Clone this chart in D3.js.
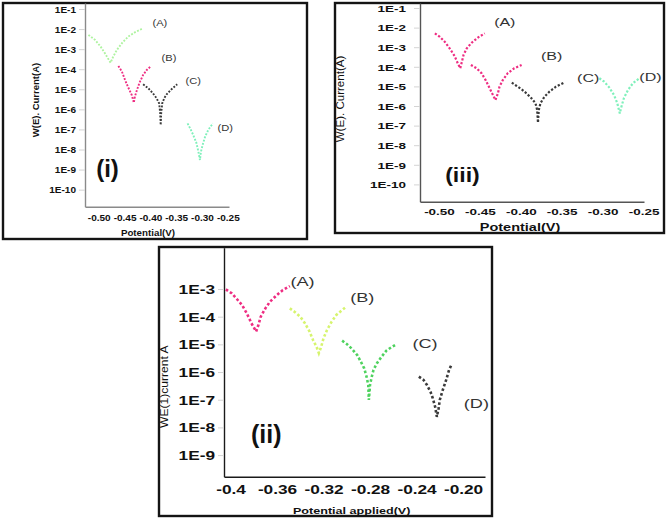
<!DOCTYPE html>
<html>
<head>
<meta charset="utf-8">
<script src="https://cdn.jsdelivr.net/npm/d3@7"></script>
<style>
  body { margin: 0; background: #fff; }
  svg { display: block; }
</style>
</head>
<body>
<div id="chart"></div>
<script>
// ---- values: [potential V, current A] ----
const curveNames = ["(A)", "(B)", "(C)", "(D)"];

const xTicksI = [-0.50, -0.45, -0.40, -0.35, -0.30, -0.25];
const yTicksI = [1e-1, 1e-2, 1e-3, 1e-4, 1e-5, 1e-6, 1e-7, 1e-8, 1e-9, 1e-10];
const xTicksIII = [-0.50, -0.45, -0.40, -0.35, -0.30, -0.25];
const yTicksIII = [1e-1, 1e-2, 1e-3, 1e-4, 1e-5, 1e-6, 1e-7, 1e-8, 1e-9, 1e-10];
const xTicksII = [-0.40, -0.36, -0.32, -0.28, -0.24, -0.20];
const xLabelsII = ["-0.4", "-0.36", "-0.32", "-0.28", "-0.24", "-0.20"];
const yTicksII = [1e-3, 1e-4, 1e-5, 1e-6, 1e-7, 1e-8, 1e-9];

// panel (i)
const iA = [[-0.520, 5.1e-3], [-0.507, 2.9e-3], [-0.496, 1.3e-3], [-0.488, 6.2e-4], [-0.481, 3.1e-4],
  [-0.477, 2.1e-4], [-0.472, 4.2e-4], [-0.465, 9.1e-4], [-0.455, 2.0e-3], [-0.443, 4.2e-3],
  [-0.430, 6.9e-3], [-0.414, 1.1e-2]];
const iB = [[-0.462, 1.45e-4], [-0.455, 7.5e-5], [-0.449, 2.9e-5], [-0.443, 1.26e-5], [-0.436, 5.2e-6],
  [-0.432, 2.15e-6], [-0.430, 4.3e-6], [-0.426, 9.2e-6], [-0.421, 2.13e-5], [-0.414, 5.2e-5],
  [-0.407, 9.2e-5], [-0.400, 1.34e-4]];
const iC = [[-0.414, 1.77e-5], [-0.404, 1.12e-5], [-0.395, 6.3e-6], [-0.388, 3.6e-6], [-0.383, 2.0e-6],
  [-0.381, 6.6e-7], [-0.380, 1.66e-7], [-0.379, 6.6e-7], [-0.377, 2.0e-6], [-0.373, 3.7e-6],
  [-0.368, 5.8e-6], [-0.359, 1.0e-5], [-0.348, 1.77e-5]];
const iD = [[-0.328, 2.0e-7], [-0.323, 1.14e-7], [-0.317, 5.3e-8], [-0.311, 2.2e-8], [-0.307, 7.8e-9],
  [-0.304, 3.0e-9], [-0.302, 7.8e-9], [-0.298, 2.0e-8], [-0.294, 4.3e-8], [-0.288, 9.4e-8],
  [-0.279, 2.0e-7]];

// panel (iii)
const iiiA = [[-0.505, 5.1e-3], [-0.499, 3.4e-3], [-0.493, 1.9e-3], [-0.487, 8.8e-4], [-0.481, 3.6e-4],
  [-0.477, 1.5e-4], [-0.474, 8.4e-5], [-0.472, 1.8e-4], [-0.470, 4.0e-4], [-0.466, 8.8e-4],
  [-0.460, 1.7e-3], [-0.452, 3.2e-3], [-0.444, 5.1e-3]];
const iiiB = [[-0.461, 1.24e-4], [-0.454, 8.4e-5], [-0.448, 4.7e-5], [-0.443, 2.1e-5], [-0.439, 9.7e-6],
  [-0.435, 4.4e-6], [-0.431, 2.0e-6], [-0.428, 4.4e-6], [-0.426, 9.7e-6], [-0.422, 2.1e-5],
  [-0.416, 4.7e-5], [-0.408, 8.4e-5], [-0.399, 1.24e-4]];
const iiiC = [[-0.411, 1.55e-5], [-0.405, 1.05e-5], [-0.399, 7.1e-6], [-0.393, 4.4e-6], [-0.387, 2.5e-6],
  [-0.382, 1.37e-6], [-0.380, 6.3e-7], [-0.379, 1.4e-7], [-0.378, 6.3e-7], [-0.376, 1.37e-6],
  [-0.371, 3.0e-6], [-0.365, 5.4e-6], [-0.357, 9.7e-6], [-0.347, 1.55e-5]];
const iiiD = [[-0.304, 2.6e-5], [-0.298, 1.74e-5], [-0.292, 9.0e-6], [-0.286, 3.6e-6], [-0.282, 1.37e-6],
  [-0.279, 4.2e-7], [-0.277, 9.2e-7], [-0.274, 2.5e-6], [-0.269, 6.5e-6], [-0.263, 1.44e-5],
  [-0.255, 2.6e-5]];

// panel (ii)
const iiA = [[-0.404, 9.7e-4], [-0.399, 7.0e-4], [-0.395, 4.6e-4], [-0.390, 2.6e-4], [-0.386, 1.32e-4],
  [-0.382, 5.8e-5], [-0.378, 2.9e-5], [-0.376, 5.0e-5], [-0.374, 1.0e-4], [-0.370, 2.0e-4],
  [-0.366, 3.5e-4], [-0.360, 6.1e-4], [-0.355, 9.2e-4], [-0.349, 1.28e-3]];
const iiB = [[-0.349, 2.0e-4], [-0.345, 1.51e-4], [-0.340, 1.0e-4], [-0.336, 5.8e-5], [-0.332, 2.9e-5],
  [-0.329, 1.44e-5], [-0.326, 8.2e-6], [-0.324, 4.8e-6], [-0.322, 8.2e-6], [-0.320, 1.66e-5],
  [-0.317, 3.3e-5], [-0.313, 6.6e-5], [-0.309, 1.15e-4], [-0.304, 1.74e-4], [-0.301, 2.2e-4]];
const iiC = [[-0.304, 1.36e-5], [-0.300, 1.03e-5], [-0.296, 7.2e-6], [-0.291, 4.1e-6], [-0.288, 2.4e-6],
  [-0.285, 1.36e-6], [-0.283, 6.8e-7], [-0.2815, 3.4e-7], [-0.281, 9.8e-8], [-0.280, 3.4e-7],
  [-0.2785, 6.8e-7], [-0.277, 1.19e-6], [-0.274, 2.1e-6], [-0.270, 3.6e-6], [-0.266, 5.9e-6],
  [-0.261, 8.2e-6], [-0.257, 1.03e-5]];
const iiD = [[-0.238, 6.8e-7], [-0.234, 5.2e-7], [-0.231, 3.4e-7], [-0.228, 1.95e-7], [-0.226, 1.12e-7],
  [-0.224, 5.6e-8], [-0.2225, 2.4e-8], [-0.221, 4.9e-8], [-0.220, 9.8e-8], [-0.2175, 2.2e-7],
  [-0.2145, 5.2e-7], [-0.212, 1.19e-6], [-0.210, 1.8e-6]];

// ---- colours ----
const PINK = "#ee2d82", PALE_GREEN = "#aef3a0", AQUA = "#7ff0bb", DARK = "#3a3a3a",
      LIME = "#d6f46e", GREEN = "#4ed25e";

const FONT = "'Liberation Sans', Arial, sans-serif";

// ---- layout of the three panels (pixels) ----
const panels = [
  {
    box: [3, 3, 307, 239], xr: [85, 229], yr: [206.7, 3],
    xd: [-0.5266, -0.2477], yd: [-10.85, -0.7],
    xTicks: xTicksI, xFmt: d => d.toFixed(2), yTicks: yTicksI,
    series: [iA, iB, iC, iD], colors: [PALE_GREEN, PINK, DARK, AQUA],
    labelOff: [[16.7, -5], [18.6, -8.4], [16, -3.3], [12.3, 5]],
    fs: 8.5, sx: 1.18, yGap: 9, xOff: 11, axisColor: "#8a8a8a",
    dotW: 1.9, dash: "1.9,1.5", labelFs: 9.5, labelSx: 1.17,
    xTitle: { text: "Potential(V)", x: 148, y: 233, fs: 8.5, sx: 1.15, bold: true },
    yTitle: { text: "W(E). Current(A)", x: 36, y: 100, fs: 8.5, sx: 1.12, bold: true },
    tag: { text: "(i)", x: 107.5, y: 177, fs: 24, sx: 1 }
  },
  {
    box: [335, 3, 664, 233], xr: [420, 644], yr: [201.7, 3],
    xd: [-0.5232, -0.2494], yd: [-10.883, -0.745],
    xTicks: xTicksIII, xFmt: d => d.toFixed(2), yTicks: yTicksIII,
    series: [iiiA, iiiB, iiiC, iiiD], colors: [PINK, PINK, DARK, AQUA],
    labelOff: [[20, -10], [30, -7.7], [24, -3], [11, 0]],
    fs: 9.3, sx: 1.45, yGap: 14, xOff: 10.3, axisColor: "#555",
    dotW: 2.2, dash: "2.2,1.8", labelFs: 10, labelSx: 1.6,
    xTitle: { text: "Potential(V)", x: 520, y: 227, fs: 10, sx: 1.45, bold: true },
    yTitle: { text: "W(E). Current(A)", x: 340, y: 99, fs: 11, sx: 1.05, bold: false },
    tag: { text: "(iii)", x: 462.5, y: 182.3, fs: 21, sx: 1.1 }
  },
  {
    box: [159, 247, 492, 516], xr: [224, 485], yr: [476.7, 247.7],
    xd: [-0.4056, -0.1811], yd: [-9.781, -1.508],
    xTicks: xTicksII, xFmt: (d, i) => xLabelsII[i], yTicks: yTicksII,
    series: [iiA, iiB, iiC, iiD], colors: [PINK, LIME, GREEN, DARK],
    labelOff: [[12.7, -3.3], [16.7, -9], [28.3, 0], [25, 40]],
    fs: 12.5, sx: 1.38, yGap: 9, xOff: 13, axisColor: "#1a1a1a",
    dotW: 2.6, dash: "2.6,2.2", labelFs: 13, labelSx: 1.4,
    xTitle: { text: "Potential applied(V)", x: 351.7, y: 510.7, fs: 9, sx: 1.4, bold: true },
    yTitle: { text: "WE(1)current A", x: 164, y: 386.7, fs: 11, sx: 1.1, bold: false },
    tag: { text: "(ii)", x: 266.3, y: 443, fs: 25, sx: 1 }
  }
];

const svg = d3.select("#chart").append("svg")
  .attr("width", 666)
  .attr("height", 519);

const fmtE = d => "1E" + Math.round(Math.log10(d));

// stretched text (the source figure is squashed horizontally)
function stretchText(g, cx, baseline, txt, fs, sx, weight, fill, rotate) {
  const rot = rotate ? " rotate(-90)" : "";
  return g.append("text")
    .attr("transform", `translate(${cx},${baseline})${rot} scale(${sx},1)`)
    .attr("text-anchor", "middle")
    .attr("font-family", FONT)
    .attr("font-size", fs)
    .attr("font-weight", weight)
    .attr("fill", fill)
    .text(txt);
}

function drawPanel(p) {
  const g = svg.append("g");

  g.append("rect")
    .attr("x", p.box[0]).attr("y", p.box[1])
    .attr("width", p.box[2] - p.box[0]).attr("height", p.box[3] - p.box[1])
    .attr("fill", "none").attr("stroke", "#141414").attr("stroke-width", 2.4);

  const x = d3.scaleLinear().domain(p.xd).range(p.xr);
  const y = d3.scaleLog().domain(p.yd.map(e => Math.pow(10, e))).range(p.yr);

  // y axis
  const ya = g.append("g")
    .attr("transform", `translate(${p.xr[0]},0)`)
    .call(d3.axisLeft(y).tickValues(p.yTicks).tickFormat(fmtE).tickSize(6).tickSizeOuter(0));
  ya.attr("font-family", FONT).attr("font-size", p.fs).attr("font-weight", "bold");
  ya.select(".domain").attr("stroke", p.axisColor).attr("stroke-width", 1.4);
  ya.selectAll(".tick line").attr("stroke", "#d4d4d4");
  ya.selectAll(".tick text")
    .attr("x", -p.yGap / p.sx)
    .attr("dy", "0.358em")
    .attr("fill", "#111")
    .attr("transform", `scale(${p.sx},1)`);

  // x axis
  const xa = g.append("g")
    .attr("transform", `translate(0,${p.yr[0]})`)
    .call(d3.axisBottom(x).tickValues(p.xTicks).tickFormat(p.xFmt).tickSize(0).tickSizeOuter(0));
  xa.attr("font-family", FONT).attr("font-size", p.fs).attr("font-weight", "bold");
  xa.select(".domain").attr("stroke", p.axisColor).attr("stroke-width", 1.4);
  xa.selectAll(".tick text")
    .attr("y", p.xOff)
    .attr("dy", "0.358em")
    .attr("fill", "#111")
    .attr("transform", `scale(${p.sx},1)`);

  // dotted Tafel curves
  const line = d3.line()
    .x(d => x(d[0]))
    .y(d => y(d[1]));

  p.series.forEach((data, k) => {
    g.append("path")
      .datum(data)
      .attr("d", line)
      .attr("fill", "none")
      .attr("stroke", p.colors[k])
      .attr("stroke-width", p.dotW)
      .attr("stroke-dasharray", p.dash);

    const last = data[data.length - 1];
    const cx = x(last[0]) + p.labelOff[k][0];
    const cy = y(last[1]) + p.labelOff[k][1];
    stretchText(g, cx, cy + 0.27 * p.labelFs, curveNames[k], p.labelFs, p.labelSx, "normal", "#333");
  });

  // axis titles
  const xt = p.xTitle;
  stretchText(g, xt.x, xt.y + 0.358 * xt.fs, xt.text, xt.fs, xt.sx, xt.bold ? "bold" : "normal", "#111");
  const yt = p.yTitle;
  stretchText(g, yt.x + 0.358 * yt.fs, yt.y, yt.text, yt.fs, yt.sx, yt.bold ? "bold" : "normal", "#111", true);

  // panel tag
  stretchText(g, p.tag.x, p.tag.y, p.tag.text, p.tag.fs, p.tag.sx, "bold", "#111");
}

panels.forEach(drawPanel);
</script>
</body>
</html>
